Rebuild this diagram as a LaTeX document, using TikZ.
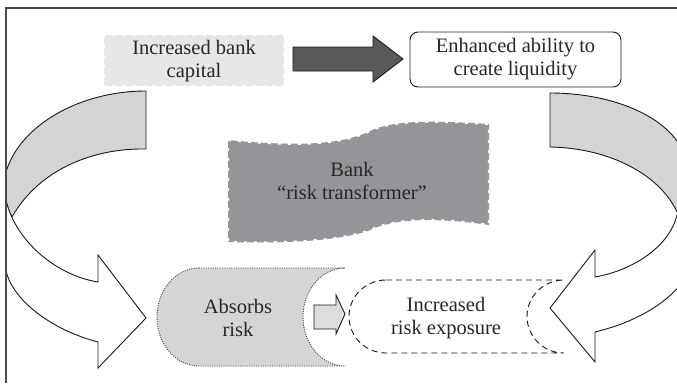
\documentclass[tikz,border=0pt]{standalone}
\usepackage{fontspec}
\setmainfont{Liberation Serif}
\begin{document}
\definecolor{framegray}{HTML}{4A4A4A}
\definecolor{bandgray}{HTML}{D3D4D6}
\definecolor{capgray}{HTML}{E6E7E8}
\definecolor{darkarrow}{HTML}{58595B}
\definecolor{bankgray}{HTML}{939598}
\definecolor{absorbgray}{HTML}{D4D5D7}
\definecolor{smallarrow}{HTML}{DCDDDE}
\begin{tikzpicture}[x=1pt,y=-1pt,
  lbl/.style={align=center, font=\fontsize{20.5}{23}\selectfont, inner sep=0pt, text=black!85},
  outline/.style={draw=black!90, line width=0.9pt, line join=miter},
  notched/.style={draw=white, line width=2.2pt, dash pattern=on 3pt off 7pt},
  dotline/.style={draw=black!75, line width=0.9pt, dash pattern=on 1pt off 1.3pt},
  dashline/.style={draw=black!90, line width=0.9pt, dash pattern=on 6pt off 4pt}]
\useasboundingbox (0,0) rectangle (677,383);
\fill[white] (0,0) rectangle (677,383);

% top left box
\fill[capgray] (104,35) rectangle (284,86);
\draw[notched] (104,35) rectangle (284,86);
\node[lbl] (capital) at (194,61) {Increased bank\\capital};

% dark block arrow
\coordinate (da1) at (293,47);
\filldraw[fill=darkarrow, outline] (da1) -- (373,47) -- (373,36) -- (403,59)
  -- (373,82) -- (373,71) -- (293,71) -- cycle;

% rounded box on the right
\node[lbl, draw=black!90, line width=0.9pt, rounded corners=8pt, fill=white,
  minimum width=211pt, minimum height=55pt] (liquidity) at (515.5,59.5)
  {Enhanced ability to\\create liquidity};

% the bank blob
\fill[bankgray] (228,140) .. controls (290,146) and (340,146) .. (370,131)
  .. controls (395,119) and (440,121) .. (489,124) -- (489,225)
  .. controls (440,218) and (400,218) .. (375,228)
  .. controls (350,240) and (290,244) .. (228,242) -- cycle;
\draw[notched] (228,140) .. controls (290,146) and (340,146) .. (370,131)
  .. controls (395,119) and (440,121) .. (489,124) -- (489,225)
  .. controls (440,218) and (400,218) .. (375,228)
  .. controls (350,240) and (290,244) .. (228,242) -- cycle;
\node[lbl] (bank) at (352,181) {Bank\\“risk transformer”};

% bottom left can
\filldraw[fill=absorbgray, dotline] (199,268) -- (345,268)
  arc[start angle=270, end angle=90, x radius=42, y radius=49]
  -- (199,366)
  arc[start angle=90, end angle=270, x radius=42, y radius=49] -- cycle;
\node[lbl] (absorbs) at (238,318) {Absorbs\\risk};

% bottom right can
\filldraw[fill=white, dashline] (386,280) -- (564,280)
  arc[start angle=270, end angle=90, x radius=37, y radius=36.5]
  -- (386,353)
  arc[start angle=90, end angle=270, x radius=37, y radius=36.5] -- cycle;
\node[lbl] (exposure) at (446,318) {Increased\\risk exposure};

% small arrow between the cans
\filldraw[fill=smallarrow, outline] (314,305) -- (336,305) -- (336,295) -- (345,314)
  -- (336,334) -- (336,329) -- (314,329) -- cycle;

% left curved arrow
\filldraw[fill=bandgray, outline] (146,91) .. controls (80,91) and (20,125) .. (6,172)
  -- (6,200) .. controls (7,207) and (9,212) .. (12,217)
  .. controls (40,168) and (95,148) .. (146,149) -- cycle;
\filldraw[fill=white, outline] (6,200) .. controls (15,240) and (55,275) .. (98,282)
  -- (98,255) -- (146,318) -- (98,368) -- (98,342)
  .. controls (45,328) and (10,295) .. (6,270) -- cycle;

% right curved arrow
\begin{scope}
\clip (0,0) rectangle (677,383);
\filldraw[fill=bandgray, outline] (550,93) .. controls (615,93) and (668,118) .. (682,150)
  -- (682,214) -- (677,212) .. controls (660,175) and (610,148) .. (550,147) -- cycle;
\filldraw[fill=white, outline] (690,215) -- (677,215)
  .. controls (670,245) and (635,270) .. (595,277)
  -- (595,250) -- (550,308) -- (595,362) -- (595,332)
  .. controls (645,320) and (678,295) .. (690,270) -- cycle;
\end{scope}

% frame
\draw[framegray, line width=1.2pt] (6,383) -- (6,8) -- (677,8);
\end{tikzpicture}
\end{document}
